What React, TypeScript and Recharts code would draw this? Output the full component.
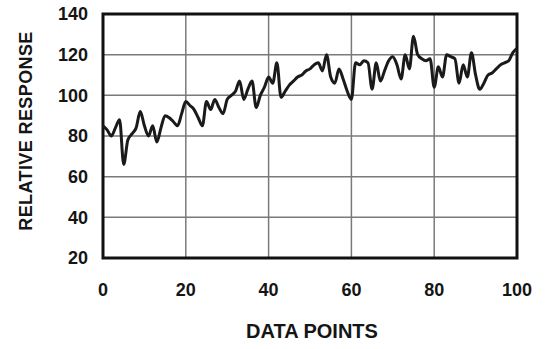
import { LineChart, Line, XAxis, YAxis, CartesianGrid, ReferenceArea, Label } from 'recharts';

// values, one per data point 0..100
const responses = [
  85, 83, 80, 84, 88, 66, 78, 81, 84, 92,
  85, 80, 85, 77, 84, 90, 89, 87, 85, 91,
  97, 95, 93, 89, 85, 97, 93, 98, 94, 91,
  98, 100, 102, 107, 98, 103, 107, 94, 100, 104,
  109, 106, 116, 99, 102, 105, 107, 109, 110, 112,
  113, 115, 116, 112, 120, 109, 106, 113, 108, 102,
  98, 116, 115, 117, 116, 103, 116, 107, 112, 117,
  119, 115, 108, 120, 113, 129, 120, 118, 117, 118,
  104, 114, 109, 120, 119, 118, 106, 115, 109, 121,
  110, 103, 106, 110, 111, 113, 115, 116, 117, 121, 123,
];
const xTicks = [0, 20, 40, 60, 80, 100];
const yTicks = [20, 40, 60, 80, 100, 120, 140];

const chartData = responses.map((value, i) => ({ point: i, value }));

const font = '"Liberation Sans", Arial, sans-serif';
const tickStyle = { fontFamily: font, fontSize: 18, fontWeight: 700, fill: '#151515' };

export default function App() {
  return (
    <div style={{ position: 'absolute', left: 0, top: 0, width: 546, height: 349, background: '#fff' }}>
      <LineChart width={546} height={349} data={chartData} margin={{ top: 14, right: 29, bottom: 41, left: 43 }}>
        <CartesianGrid stroke="#7a7a7a" strokeWidth={1.5} />
        <XAxis
          type="number"
          dataKey="point"
          domain={[0, 100]}
          ticks={xTicks}
          axisLine={false}
          tickLine={false}
          tickSize={0}
          tickMargin={25}
          height={50}
          tick={tickStyle}
        >
          <Label
            content={() => (
              <text x={312} y={338} textAnchor="middle" style={{ ...tickStyle, fontSize: 20 }}>
                DATA POINTS
              </text>
            )}
          />
        </XAxis>
        <YAxis
          type="number"
          domain={[20, 140]}
          ticks={yTicks}
          axisLine={false}
          tickLine={false}
          tickSize={0}
          tickMargin={15}
          width={60}
          tick={tickStyle}
        >
          <Label
            content={() => (
              <text
                x={32}
                y={131}
                textAnchor="middle"
                transform="rotate(-90 32 131)"
                style={{ ...tickStyle, fontSize: 18, letterSpacing: 0.4 }}
              >
                RELATIVE RESPONSE
              </text>
            )}
          />
        </YAxis>
        <ReferenceArea x1={0} x2={100} y1={20} y2={140} fill="none" stroke="#111" strokeWidth={3} ifOverflow="visible" />
        <Line
          type="monotone"
          dataKey="value"
          stroke="#1a1a1a"
          strokeWidth={3}
          dot={false}
          isAnimationActive={false}
        />
      </LineChart>
    </div>
  );
}
